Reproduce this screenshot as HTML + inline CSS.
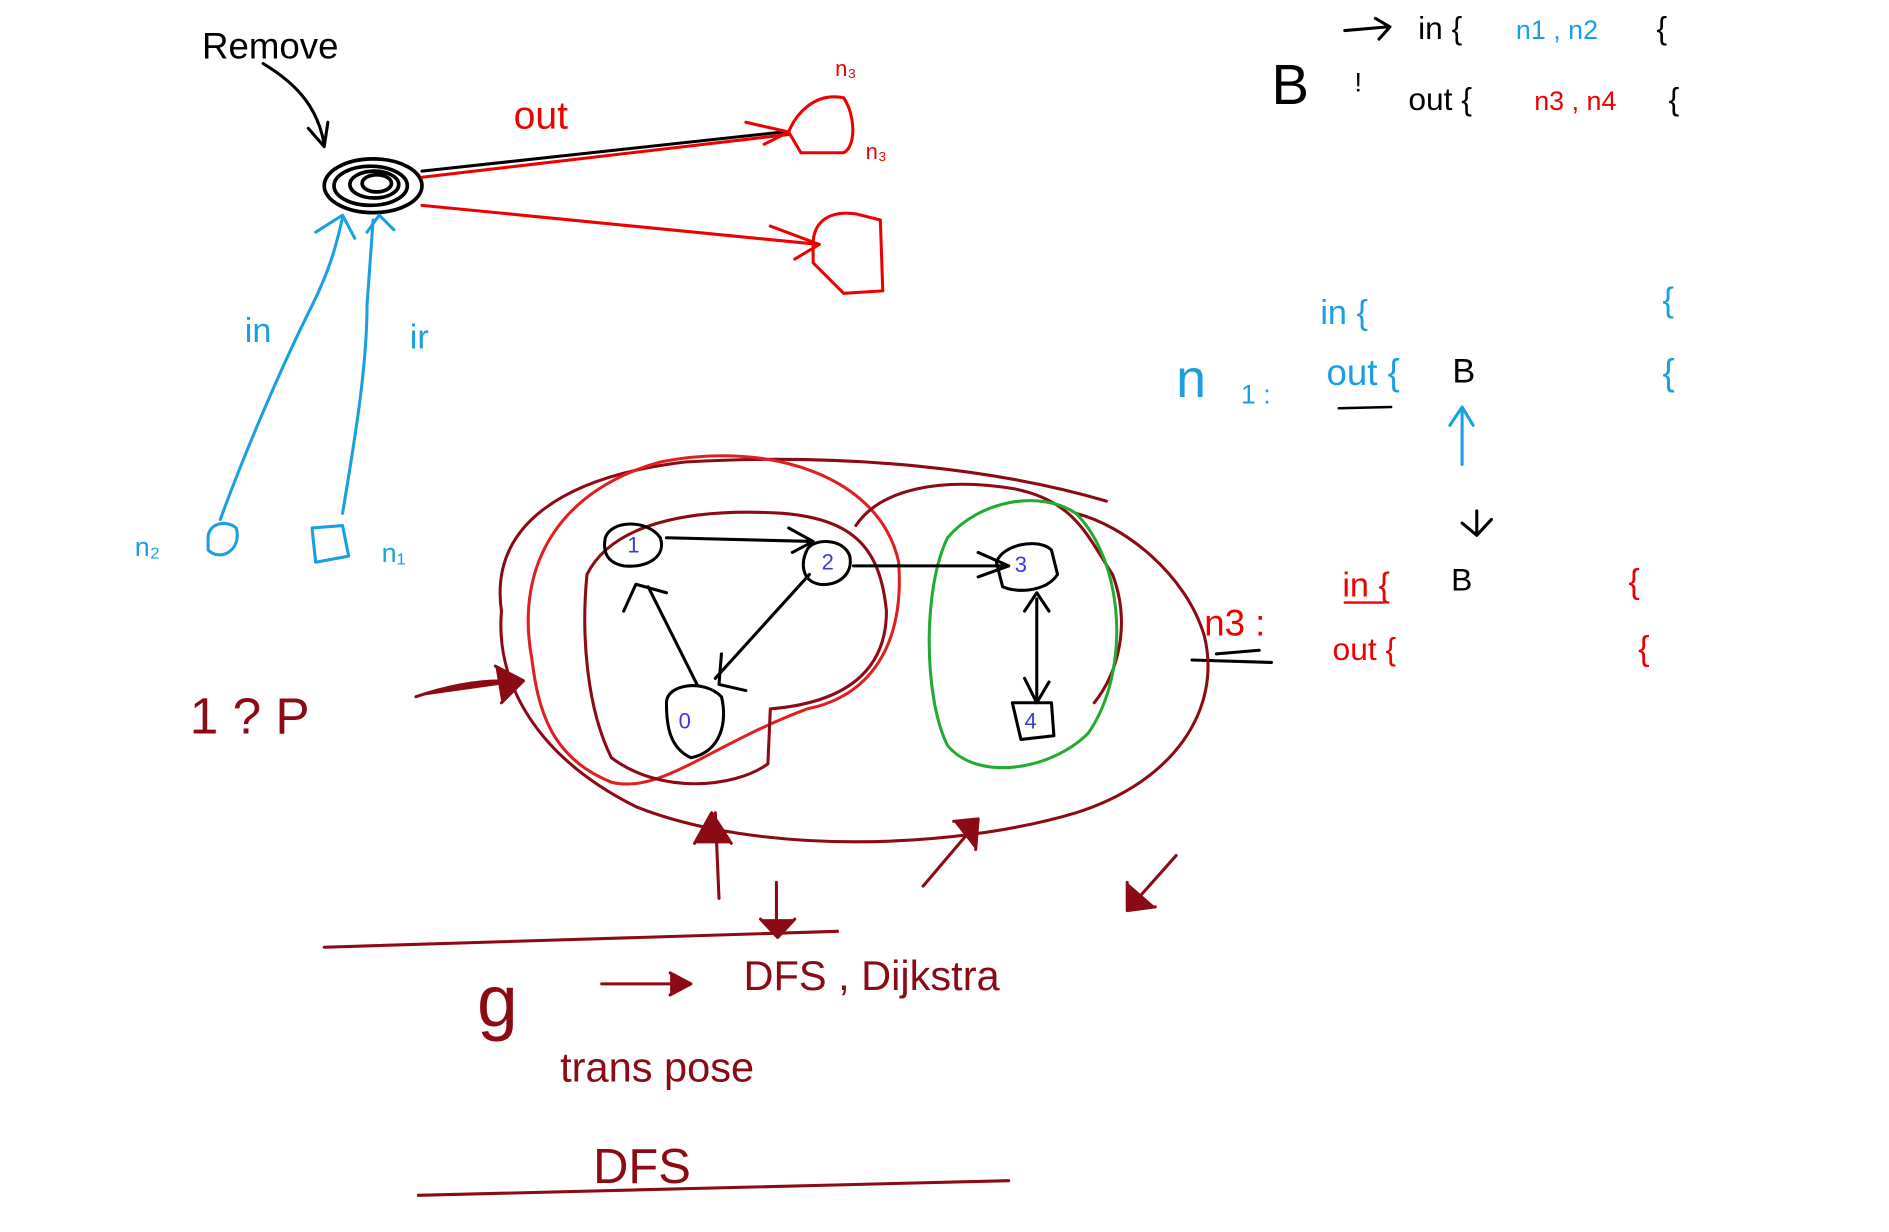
<!DOCTYPE html>
<html><head><meta charset="utf-8"><style>
html,body{margin:0;padding:0;background:#fff;}
svg{display:block}
text{font-family:"Liberation Sans",sans-serif;}
</style></head><body>
<svg width="1889" height="1232" viewBox="0 0 1545 1008" xmlns="http://www.w3.org/2000/svg" fill="none" stroke-linecap="round" stroke-linejoin="round">
<rect width="1545" height="1008" fill="#fff" stroke="none"/>

<!-- top-left: Remove node B -->
<g>
<text x="165" y="48" font-size="30" fill="#000" stroke="none">Remove</text>
<path d="M215 52 C245 70 260 90 265 118 M252 105 L265 120 L268 100" stroke="#000" stroke-width="2.5"/>
</g>
<g stroke="#000" stroke-width="3">
<ellipse cx="305" cy="152" rx="40" ry="22"/>
<ellipse cx="303" cy="152" rx="30" ry="16"/>
<ellipse cx="306" cy="151" rx="20" ry="11"/>
<ellipse cx="308" cy="150" rx="12" ry="7"/>
</g>
<g stroke-width="2.5">
<path d="M345 140 L640 108" stroke="#000"/>
<path d="M345 145 L645 110" stroke="#e00"/>
<path d="M610 100 L645 108 L625 118" stroke="#e00"/>
<path d="M645 108 C650 95 665 75 690 80 C700 95 700 120 690 125 L655 125 Z" stroke="#e00"/>
<path d="M345 168 L670 200" stroke="#e00"/>
<path d="M630 185 L670 200 L650 212" stroke="#e00"/>
<path d="M665 200 C665 180 680 172 700 175 L720 180 L722 238 L690 240 L665 215 Z" stroke="#e00"/>
<text x="420" y="105" font-size="32" fill="#e00" stroke="none">out</text>
<text x="683" y="62" font-size="18" fill="#e00" stroke="none">n₃</text>
<text x="708" y="130" font-size="18" fill="#e00" stroke="none">n₃</text>
</g>
<g stroke="#1a9fe0" stroke-width="2.5">
<path d="M180 425 C200 370 230 300 255 250 C270 220 275 200 280 178"/>
<path d="M258 190 L280 176 L290 195"/>
<path d="M280 420 C290 360 300 300 300 250 L305 180"/>
<path d="M300 190 L310 176 L322 188"/>
<path d="M170 440 C170 428 185 425 193 432 C198 450 180 460 170 450 Z"/>
<path d="M255 432 L280 430 L285 455 L258 460 Z"/>
<text x="200" y="280" font-size="28" fill="#1a9fe0" stroke="none">in</text>
<text x="335" y="285" font-size="28" fill="#1a9fe0" stroke="none">ir</text>
<text x="110" y="455" font-size="22" fill="#1a9fe0" stroke="none">n₂</text>
<text x="312" y="460" font-size="22" fill="#1a9fe0" stroke="none">n₁</text>
</g>

<!-- top right notes -->
<g>
<text x="1040" y="85" font-size="46" fill="#000" stroke="none">B</text>
<text x="1108" y="75" font-size="22" fill="#000" stroke="none">!</text>
<path d="M1100 25 L1135 22 M1125 15 L1137 22 L1128 32" stroke="#000" stroke-width="2.5"/>
<text x="1160" y="32" font-size="26" fill="#000" stroke="none">in {</text>
<text x="1240" y="32" font-size="22" fill="#1a9fe0" stroke="none">n1 , n2</text>
<text x="1355" y="32" font-size="26" fill="#000" stroke="none">{</text>
<text x="1152" y="90" font-size="26" fill="#000" stroke="none">out {</text>
<text x="1255" y="90" font-size="22" fill="#e00" stroke="none">n3 , n4</text>
<text x="1365" y="90" font-size="26" fill="#000" stroke="none">{</text>
</g>
<g>
<text x="1080" y="265" font-size="28" fill="#1a9fe0" stroke="none">in {</text>
<text x="1360" y="255" font-size="28" fill="#1a9fe0" stroke="none">{</text>
<text x="962" y="325" font-size="44" fill="#1a9fe0" stroke="none">n</text>
<text x="1015" y="330" font-size="22" fill="#1a9fe0" stroke="none">1 :</text>
<text x="1085" y="315" font-size="30" fill="#1a9fe0" stroke="none">out {</text>
<path d="M1095 334 L1138 333" stroke="#000" stroke-width="2"/>
<text x="1188" y="313" font-size="28" fill="#000" stroke="none">B</text>
<text x="1360" y="315" font-size="30" fill="#1a9fe0" stroke="none">{</text>
<path d="M1196 380 L1196 335 M1186 348 L1196 333 L1205 348" stroke="#1a9fe0" stroke-width="2.5"/>
<path d="M1208 418 L1208 435 M1196 428 L1208 438 L1220 425" stroke="#000" stroke-width="2.5"/>
</g>
<g>
<text x="1098" y="488" font-size="28" fill="#e00" stroke="none">in {</text>
<path d="M1100 493 L1132 493" stroke="#e00" stroke-width="2"/>
<text x="1187" y="483" font-size="26" fill="#000" stroke="none">B</text>
<text x="1332" y="485" font-size="28" fill="#e00" stroke="none">{</text>
<text x="985" y="520" font-size="30" fill="#e00" stroke="none">n3 :</text>
<path d="M975 540 L1040 542 M995 535 L1030 532" stroke="#000" stroke-width="2.5"/>
<text x="1090" y="540" font-size="26" fill="#e00" stroke="none">out {</text>
<text x="1340" y="540" font-size="28" fill="#e00" stroke="none">{</text>
</g>

<!-- graph -->
<g stroke-width="2.5">
<path d="M410 500 C400 430 460 390 560 378 C700 370 820 385 905 410" stroke="#8b0a14"/>
<path d="M410 500 C405 560 440 620 520 660 C620 700 780 695 880 665 C960 640 1000 580 985 520 C970 470 920 430 880 420" stroke="#8b0a14"/>
<path d="M435 540 C420 460 460 400 540 378 C630 360 720 390 735 460 C740 530 710 570 660 580 C580 610 540 650 500 640 C450 620 440 580 435 540 Z" stroke="#e02020"/>
<path d="M480 470 C500 430 560 415 640 420 C700 425 720 450 725 500 C725 550 690 575 630 580 L628 625 C600 645 540 650 500 620 C480 580 475 520 480 470 Z" stroke="#8b0a14"/>
<path d="M700 430 C720 400 770 390 830 400 C880 410 890 440 910 470 C925 510 915 550 895 575" stroke="#8b0a14"/>
<path d="M775 440 C800 410 850 400 880 420 C920 460 925 550 890 600 C860 630 800 640 775 610 C755 570 755 480 775 440 Z" stroke="#22aa33"/>
</g>
<g stroke="#000" stroke-width="2.5">
<path d="M495 440 C500 425 530 425 540 440 C545 455 530 465 510 463 C495 460 493 450 495 440 Z"/>
<path d="M660 450 C665 440 690 440 695 455 C698 470 685 480 670 478 C655 475 655 460 660 450 Z"/>
<path d="M815 460 C820 445 850 440 860 450 L865 470 C855 485 830 485 820 480 Z"/>
<path d="M545 575 C545 560 575 555 590 570 C595 590 590 615 565 620 C548 612 545 595 545 575 Z"/>
<path d="M828 575 L860 575 L862 602 L835 605 Z"/>
<path d="M545 440 L665 443 M645 432 L665 443 L648 452"/>
<path d="M662 470 L585 555 M590 535 L588 560 L610 565"/>
<path d="M570 560 L530 480 M510 500 L520 478 L545 485"/>
<path d="M698 463 L825 463 M800 452 L825 463 L800 472"/>
<path d="M848 490 L848 572 M838 555 L848 575 L858 558 M838 500 L848 485 L858 500"/>
</g>
<g font-size="18" fill="#3a3ae0" stroke="none">
<text x="513" y="452">1</text><text x="672" y="466">2</text><text x="830" y="468">3</text><text x="555" y="596">0</text><text x="838" y="596">4</text>
</g>

<!-- bottom annotations -->
<g fill="#8b0a14">
<text x="155" y="600" font-size="42" stroke="none">1 ?  P</text>
<path d="M340 570 C370 560 400 555 425 558 M405 545 L428 557 L410 575" stroke="#8b0a14" stroke-width="2.5"/>
<path d="M588 735 L585 665 M568 690 L582 665 L598 690" stroke="#8b0a14" stroke-width="2.5"/>
<path d="M755 725 L800 672 M780 672 L800 670 L798 695" stroke="#8b0a14" stroke-width="2.5"/>
<path d="M635 722 L635 765 M622 752 L636 767 L650 752" stroke="#8b0a14" stroke-width="2.5"/>
<path d="M962 700 L922 745 M922 722 L922 745 L945 742" stroke="#8b0a14" stroke-width="2.5"/>
<path d="M265 775 L685 762" stroke="#8b0a14" stroke-width="2.5"/>
<text x="390" y="840" font-size="60" stroke="none">g</text>
<path d="M492 805 L562 805 M548 796 L565 805 L548 814" stroke="#8b0a14" stroke-width="2.5"/>
<text x="608" y="810" font-size="34" stroke="none">DFS , Dijkstra</text>
<text x="458" y="885" font-size="34" stroke="none">trans pose</text>
<text x="485" y="968" font-size="40" stroke="none">DFS</text>
<path d="M342 978 L825 966" stroke="#8b0a14" stroke-width="2.5"/>
</g>
</svg>
</body></html>
